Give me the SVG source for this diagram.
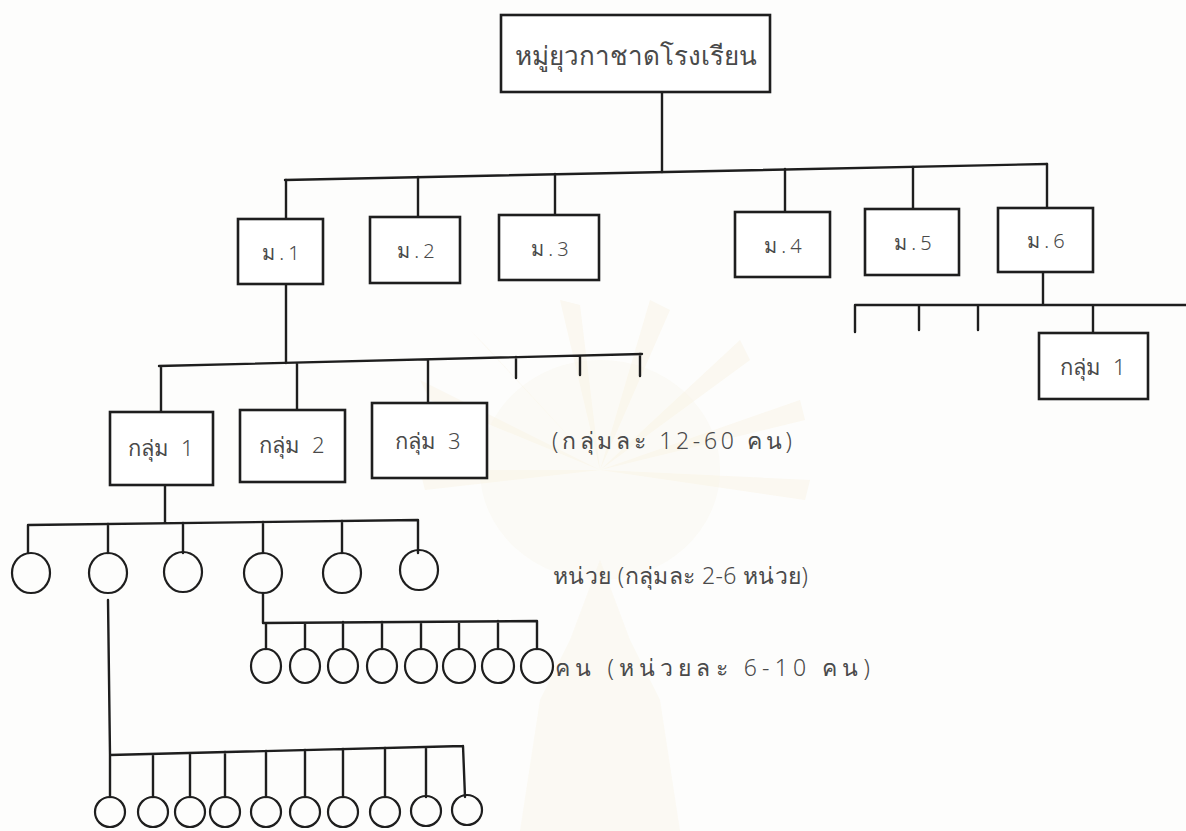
<svg xmlns="http://www.w3.org/2000/svg" width="1186" height="831" viewBox="0 0 1186 831">
<defs>
<style>
.b{fill:#fff;stroke:#1e1e1e;stroke-width:2.6;}
.c{fill:none;stroke:#1e1e1e;stroke-width:2.2;}
.l{fill:none;stroke:#1e1e1e;stroke-width:2.4;stroke-linecap:round;}
.t{font-family:"Noto Sans","DejaVu Sans",sans-serif;fill:#4a4a4a;font-weight:300;text-anchor:middle;dominant-baseline:central;}
.m{font-size:20px;letter-spacing:4px;}
.g{font-size:22px;word-spacing:6px;}
.n{font-family:"Noto Sans","DejaVu Sans",sans-serif;fill:#4a4a4a;font-weight:300;font-size:23px;dominant-baseline:central;}
.ray{fill:#f6edcf;opacity:0.25;}
</style>
</defs>
<rect width="1186" height="831" fill="#fdfdfc"/>
<g id="watermark">
<path class="ray" d="M600 470 L420 380 L430 400 Z M600 470 L470 330 L485 345 Z M600 470 L560 300 L580 305 Z M600 470 L650 300 L670 310 Z M600 470 L740 340 L750 360 Z M600 470 L800 400 L805 420 Z M600 470 L810 480 L805 500 Z M600 470 L420 470 L425 490 Z"/>
<ellipse cx="600" cy="470" rx="120" ry="110" fill="#f8f3e2" opacity="0.25"/>
<path d="M520 831 L540 700 L570 640 L600 560 L630 640 L660 700 L680 831 Z" fill="#f7efd6" opacity="0.25"/>
</g>
<g id="connectors">
<path class="l" d="M662 92 L662 172"/>
<path class="l" d="M285 180 L1047 164"/>
<path class="l" d="M286 180 L286 219 M418 177 L418 217 M555 174 L555 215 M785 169 L785 212 M913 167 L913 209 M1047 164 L1047 208"/>
<path class="l" d="M1043 272 L1043 305 M855 305 L1186 305 M855 305 L855 332 M919 305 L919 330 M978 305 L978 330 M1093 305 L1093 333"/>
<path class="l" d="M286 284 L286 363 M159 366 L642 354 M161 366 L161 412 M297 363 L297 410 M428 360 L428 403 M516 357 L516 378 M580 356 L580 375 M640 354 L640 376"/>
<path class="l" d="M165 485 L165 523 M28 525 L418 520 M28 525 L28 553 M108 524 L108 553 M183 523 L183 553 M263 522 L263 553 M342 521 L342 553 M418 520 L418 553"/>
<path class="l" d="M263 593 L263 623 M263 623 L537 621 M266 623 L266 649 M305 623 L305 649 M343 622 L343 649 M382 622 L382 649 M421 622 L421 649 M459 622 L459 649 M498 621 L498 649 M537 621 L537 649"/>
<path class="l" d="M108 600 L110 755 M110 755 L463 746 M110 755 L110 797 M153 754 L153 797 M190 753 L190 797 M225 752 L225 797 M266 751 L266 797 M305 750 L305 797 M343 749 L343 797 M385 748 L385 797 M426 747 L426 797 M463 746 L465 797"/>
</g>
<g id="root"><rect class="b" x="501" y="15" width="269" height="77"/><text class="t" x="636" y="55" font-size="26">หมู่ยุวกาชาดโรงเรียน</text></g>
<g id="m1"><rect class="b" x="238" y="219" width="85" height="65"/><text class="t m" x="283" y="252">ม.1</text></g>
<g id="m2"><rect class="b" x="370" y="217" width="90" height="66"/><text class="t m" x="418" y="250">ม.2</text></g>
<g id="m3"><rect class="b" x="499" y="215" width="100" height="65"/><text class="t m" x="552" y="248">ม.3</text></g>
<g id="m4"><rect class="b" x="735" y="212" width="95" height="65"/><text class="t m" x="785" y="245">ม.4</text></g>
<g id="m5"><rect class="b" x="865" y="209" width="94" height="66"/><text class="t m" x="915" y="242">ม.5</text></g>
<g id="m6"><rect class="b" x="998" y="208" width="95" height="64"/><text class="t m" x="1048" y="240">ม.6</text></g>
<g id="m6g1"><rect class="b" x="1039" y="333" width="109" height="66"/><text class="t g" x="1093" y="366">กลุ่ม 1</text></g>
<g id="g1"><rect class="b" x="110" y="412" width="103" height="73"/><text class="t g" x="161" y="447">กลุ่ม 1</text></g>
<g id="g2"><rect class="b" x="240" y="410" width="105" height="72"/><text class="t g" x="292" y="444">กลุ่ม 2</text></g>
<g id="g3"><rect class="b" x="372" y="403" width="115" height="75"/><text class="t g" x="428" y="440">กลุ่ม 3</text></g>
<g id="units">
<ellipse class="c" cx="31" cy="573" rx="19" ry="20"/>
<ellipse class="c" cx="108" cy="573" rx="19" ry="20"/>
<ellipse class="c" cx="183" cy="572" rx="19" ry="20"/>
<ellipse class="c" cx="263" cy="573" rx="19" ry="20"/>
<ellipse class="c" cx="342" cy="573" rx="19" ry="20"/>
<ellipse class="c" cx="419" cy="570" rx="19" ry="20"/>
</g>
<g id="members1">
<ellipse class="c" cx="266" cy="666" rx="15" ry="17"/>
<ellipse class="c" cx="305" cy="666" rx="15" ry="17"/>
<ellipse class="c" cx="343" cy="666" rx="15" ry="17"/>
<ellipse class="c" cx="382" cy="666" rx="15" ry="17"/>
<ellipse class="c" cx="421" cy="666" rx="16" ry="17"/>
<ellipse class="c" cx="459" cy="666" rx="16" ry="17"/>
<ellipse class="c" cx="498" cy="666" rx="16" ry="17"/>
<ellipse class="c" cx="537" cy="666" rx="16" ry="17"/>
</g>
<g id="members2">
<ellipse class="c" cx="110" cy="812" rx="15" ry="15"/>
<ellipse class="c" cx="153" cy="812" rx="15" ry="15"/>
<ellipse class="c" cx="190" cy="812" rx="15" ry="15"/>
<ellipse class="c" cx="225" cy="812" rx="15" ry="15"/>
<ellipse class="c" cx="266" cy="812" rx="15" ry="15"/>
<ellipse class="c" cx="305" cy="812" rx="15" ry="15"/>
<ellipse class="c" cx="343" cy="812" rx="15" ry="15"/>
<ellipse class="c" cx="385" cy="812" rx="15" ry="15"/>
<ellipse class="c" cx="426" cy="811" rx="15" ry="15"/>
<ellipse class="c" cx="467" cy="810" rx="15" ry="15"/>
</g>
<g id="labels">
<text class="n" x="552" y="440" textLength="240" lengthAdjust="spacing">(กลุ่มละ 12-60 คน)</text>
<text class="n" x="553" y="575" textLength="255" lengthAdjust="spacing">หน่วย (กลุ่มละ 2-6 หน่วย)</text>
<text class="n" x="555" y="667" textLength="315" lengthAdjust="spacing">คน (หน่วยละ 6-10 คน)</text>
</g>
</svg>
